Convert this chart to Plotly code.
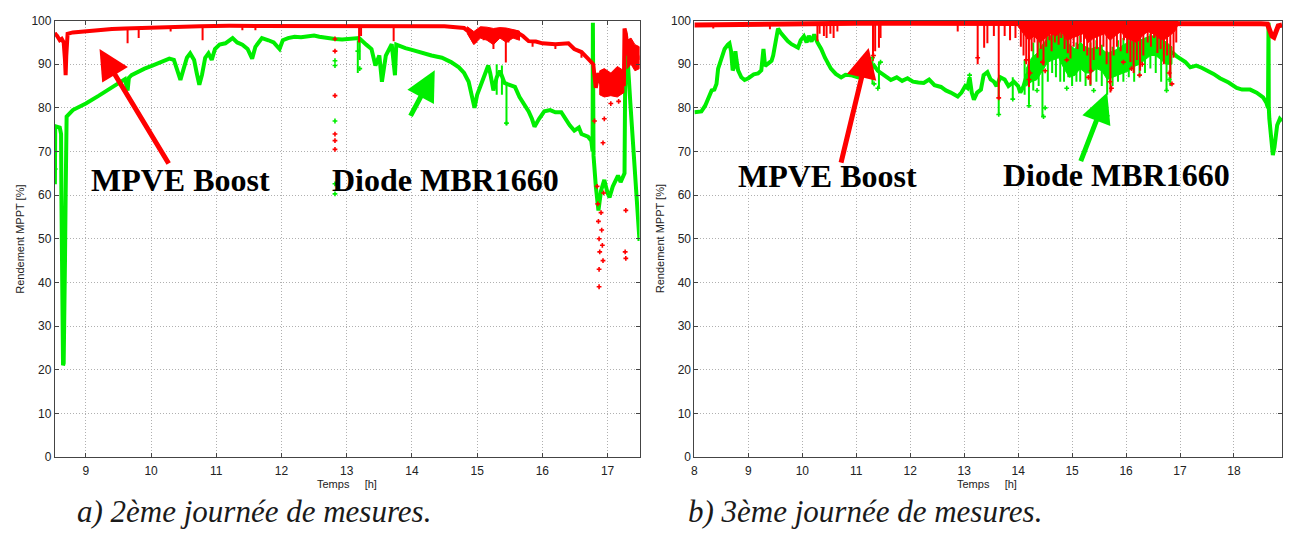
import numpy as np
import plotly.graph_objects as go

# ---------------- Day 2 (panel a) ----------------
red_a_t = [8.525, 8.53, 8.56, 8.60, 8.63, 8.66, 8.68, 8.69, 8.70, 8.72, 8.8, 9.0, 9.2, 9.4, 9.6,
           9.8, 10.0, 10.3, 10.5, 10.75, 11.2, 11.8, 12.4, 12.9, 13.0, 13.5, 14.0, 14.5, 14.8,
           14.87, 14.96, 15.0, 15.1, 15.2, 15.3, 15.45, 15.52, 15.6, 15.7, 15.79, 15.9, 16.0,
           16.2, 16.4, 16.49, 16.6, 16.7, 16.78, 16.82, 16.86, 16.9, 16.93, 16.96, 16.99, 17.02,
           17.05, 17.08, 17.11, 17.14, 17.17, 17.2, 17.23, 17.25, 17.26, 17.28, 17.32, 17.36,
           17.4, 17.44, 17.49]
red_a_v = [97.3, 97.0, 96.5, 95.5, 95.8, 95.0, 91.0, 87.5, 92.0, 97.0, 97.3, 97.6, 97.9, 98.1, 98.2,
           98.3, 98.5, 98.5, 98.6, 98.7, 98.8, 98.8, 98.8, 98.8, 98.7, 98.7, 98.8, 98.7, 98.3,
           97.5, 95.0, 97.0, 98.0, 97.5, 97.8, 97.6, 97.5, 97.4, 96.5, 95.3, 95.2, 94.8,
           94.6, 94.8, 93.5, 92.8, 91.3, 90.0, 84.6, 88.0, 85.5, 87.5, 84.0, 87.0, 83.5,
           86.5, 84.0, 87.5, 84.5, 86.8, 83.8, 86.5, 85.0, 98.2, 97.0, 92.0, 93.5,
           91.0, 92.5, 91.0]

# thick, noisy parts of the MPVE Boost band: time, lower edge, upper edge
red_a_fuzz_t = [14.85, 14.95, 15.05, 15.15, 15.25, 15.35, 15.45, 15.55, 15.65,
                16.88, 16.95, 17.05, 17.15, 17.25,
                17.3, 17.36, 17.42, 17.49]
red_a_fuzz_lo = [97.0, 94.5, 96.0, 95.5, 94.5, 96.0, 95.0, 96.0, 95.5,
                 83.0, 82.5, 82.8, 82.5, 83.5,
                 89.0, 90.0, 88.5, 89.0]
red_a_fuzz_hi = [98.6, 97.5, 98.6, 98.5, 98.2, 98.4, 98.3, 98.0, 97.6,
                 88.5, 89.0, 88.0, 89.5, 88.5,
                 95.5, 96.0, 94.5, 94.0]
red_a_fuzz_grp = [0, 0, 0, 0, 0, 0, 0, 0, 0, 1, 1, 1, 1, 1, 2, 2, 2, 2]

green_a_t = [8.525, 8.53, 8.6, 8.62, 8.625, 8.63, 8.64, 8.65, 8.66, 8.67, 8.68, 8.69, 8.70, 8.705,
             8.8, 9.0, 9.2, 9.4, 9.52, 9.6, 9.64, 9.66, 9.7, 9.8, 9.9, 10.02, 10.15, 10.28,
             10.35, 10.4, 10.45, 10.5, 10.55, 10.6, 10.66, 10.7, 10.74, 10.78, 10.83, 10.88,
             10.93, 10.98, 11.05, 11.14, 11.2, 11.25, 11.32, 11.4, 11.48, 11.55, 11.6, 11.7,
             11.8, 11.88, 11.97, 12.02, 12.1, 12.2, 12.3, 12.4, 12.5, 12.58, 12.7, 12.82,
             12.93, 13.05, 13.19, 13.3, 13.38, 13.44, 13.5, 13.54, 13.6, 13.69, 13.74, 13.76,
             13.8, 13.9, 14.0, 14.1, 14.2, 14.3, 14.46, 14.6, 14.72, 14.8, 14.87, 14.92,
             14.96, 15.0, 15.07, 15.12, 15.17, 15.2, 15.25, 15.3, 15.35, 15.42, 15.5, 15.58,
             15.65, 15.72, 15.79, 15.84, 15.88, 15.95, 16.03, 16.12, 16.2, 16.29, 16.35,
             16.42, 16.49, 16.56, 16.6, 16.65, 16.7, 16.75, 16.77, 16.775, 16.785, 16.82,
             16.86, 16.9, 16.95, 17.0, 17.03, 17.08, 17.16, 17.2, 17.26, 17.275, 17.3, 17.35,
             17.4, 17.45, 17.49]
green_a_v = [62.5, 75.8, 75.5, 74.0, 60.0, 45.0, 30.0, 21.0, 21.5, 30.0, 45.0, 60.0, 72.0, 78.0,
             79.5, 81.0, 82.8, 84.7, 85.7, 86.6, 84.0, 86.9, 87.5, 88.3, 89.0, 89.7, 90.5, 91.3,
             91.0, 89.0, 86.4, 89.0, 91.5, 92.5, 91.0, 88.0, 85.3, 87.5, 91.5, 92.5,
             91.0, 93.5, 94.5, 94.8, 95.5, 96.0, 95.0, 94.5, 93.5, 91.3, 94.0, 96.0,
             95.5, 95.0, 93.5, 95.5, 96.0, 96.3, 96.2, 96.5, 96.6, 96.3, 96.0, 95.8,
             95.7, 95.8, 96.0, 94.5, 93.5, 89.7, 92.0, 86.0, 92.0, 94.6, 87.5, 94.5,
             94.2, 93.7, 93.3, 92.8, 92.4, 92.0, 91.5, 90.5, 89.3, 88.0, 86.0, 83.0,
             80.0, 83.0, 86.0, 88.0, 89.7, 88.0, 84.0, 87.0, 88.5, 85.7, 85.2, 84.8,
             82.5, 81.0, 79.2, 77.5, 75.7, 77.5, 79.2, 79.5, 79.0, 79.0, 77.5,
             76.0, 74.8, 75.5, 74.0, 73.8, 73.4, 72.5, 70.0, 99.5, 69.0, 62.0,
             56.5, 61.0, 63.5, 60.5, 59.5, 62.0, 64.5, 63.0, 65.0, 97.0, 93.0, 81.0,
             70.0, 58.0, 49.5]

# downward spikes of the MPVE Boost band: time, lowest value
red_a_spike_t = [9.64, 9.81, 10.3, 10.79, 11.4, 11.6, 13.19, 13.22, 13.72, 15.0, 15.1, 15.25,
                 15.3, 15.44, 15.48, 15.6, 15.85, 16.2, 16.6]
red_a_spike_lo = [94.8, 96.0, 97.5, 95.5, 97.8, 97.8, 95.0, 96.5, 95.3, 96.0, 95.5, 93.5,
                  96.0, 90.4, 95.0, 96.5, 94.0, 93.5, 91.5]

# streaks of the diode curve: time, low, high
green_a_spike_t = [13.17, 13.2, 15.3, 15.38, 15.45]
green_a_spike_lo = [88.0, 91.0, 83.0, 83.0, 76.0]
green_a_spike_hi = [95.5, 96.0, 90.0, 89.7, 86.0]

# isolated samples
red_a_pts_t = [12.82, 12.82, 12.82, 12.82, 12.82, 12.82, 16.8, 16.93, 16.84, 16.85, 16.86, 16.87,
               16.88, 16.87, 16.87, 16.9, 16.91, 16.92, 16.93, 16.94, 17.27, 17.28, 17.28,
               17.05, 17.17, 16.95]
red_a_pts_v = [95.8, 93.0, 82.8, 74.0, 72.5, 70.5, 77.0, 72.0, 62.0, 58.0, 54.0, 50.0,
               47.0, 43.0, 39.0, 56.0, 52.0, 48.5, 45.0, 60.5, 47.0, 45.5, 56.5,
               81.0, 81.5, 77.5]
green_a_pts_t = [12.82, 12.82, 12.82, 12.82, 12.82, 13.17, 13.2, 8.53, 8.53, 15.45]
green_a_pts_v = [90.8, 89.7, 77.0, 62.6, 60.3, 93.0, 89.0, 70.0, 66.0, 76.5]

# ---------------- Day 3 (panel b) ----------------
red_b_t = [8.0, 8.5, 9.0, 9.5, 10.0, 11.0, 12.0, 13.0, 14.0, 15.0, 16.0, 16.95, 17.5, 18.0,
           18.5, 18.62, 18.66, 18.7, 18.74, 18.78, 18.82, 18.89]
red_b_v = [99.0, 99.1, 99.2, 99.3, 99.3, 99.4, 99.4, 99.4, 99.4, 99.3, 99.3, 99.4, 99.5, 99.4,
           99.3, 99.2, 98.0, 96.5, 96.2, 97.5, 98.8, 99.0]

red_b_fuzz_t = [13.98, 14.1, 14.2, 14.3, 14.4, 14.5, 14.6, 14.7, 14.8, 14.9, 15.0, 15.1, 15.2,
                15.3, 15.4, 15.5, 15.6, 15.7, 15.8, 15.9, 16.0, 16.1, 16.2, 16.3, 16.4, 16.5,
                16.6, 16.7, 16.8, 16.9, 16.96]
red_b_fuzz_lo = [99.0, 97.0, 95.5, 96.5, 95.0, 96.0, 97.0, 96.5, 97.5, 95.5, 96.0, 96.5, 97.0,
                 95.0, 96.0, 96.5, 97.0, 95.5, 96.5, 97.5, 96.0, 95.5, 95.0, 96.5, 97.5, 97.0,
                 96.0, 95.5, 96.5, 97.5, 99.0]
red_b_fuzz_hi = [99.8] * 31
red_b_fuzz_grp = [0] * 31

red_b_spike_t = [8.35, 9.4, 10.28, 10.32, 10.4, 10.45, 10.52, 10.58, 10.65, 11.31, 11.35, 11.42,
                 11.45, 12.88, 13.25, 13.37, 13.43, 13.55, 13.64, 13.75, 13.85, 13.95, 14.05,
                 14.1, 14.15, 14.2, 14.25, 14.3, 14.36, 14.42, 14.47, 14.52, 14.58, 14.62,
                 14.68, 14.75, 14.8, 14.86, 14.92, 14.97, 15.03, 15.1, 15.16, 15.22, 15.28,
                 15.34, 15.4, 15.46, 15.52, 15.58, 15.64, 15.71, 15.77, 15.83, 15.9, 15.96,
                 16.02, 16.08, 16.14, 16.2, 16.26, 16.32, 16.4, 16.46, 16.52, 16.58, 16.64,
                 16.7, 16.76, 16.82, 16.88, 16.93]
red_b_spike_lo = [98.2, 98.0, 95.3, 97.0, 96.5, 96.0, 97.0, 96.0, 97.5, 90.8, 93.0, 93.8,
                  96.0, 97.5, 90.0, 93.8, 94.8, 96.5, 82.0, 96.5, 95.5, 96.0, 94.0,
                  92.0, 90.0, 84.8, 93.0, 95.0, 91.5, 93.5, 89.7, 94.0, 95.5, 93.0,
                  95.0, 94.5, 96.0, 93.5, 92.5, 91.3, 94.0, 93.5, 95.0, 93.0, 92.0,
                  85.3, 91.0, 93.5, 92.0, 94.0, 90.0, 83.5, 92.0, 94.0, 93.0, 95.5,
                  92.5, 90.5, 88.0, 91.0, 88.5, 92.0, 95.0, 94.0, 96.0, 92.6, 93.5,
                  90.0, 92.0, 86.8, 91.5, 95.0]

green_b_t = [8.0, 8.13, 8.2, 8.26, 8.32, 8.37, 8.41, 8.44, 8.5, 8.56, 8.62, 8.65, 8.68, 8.71,
             8.74, 8.76, 8.78, 8.81, 8.87, 8.93, 9.0, 9.1, 9.18, 9.24, 9.28, 9.31, 9.37, 9.43,
             9.46, 9.5, 9.55, 9.6, 9.66, 9.73, 9.8, 9.92, 9.97, 10.03, 10.08, 10.12, 10.17,
             10.22, 10.28, 10.35, 10.42, 10.48, 10.53, 10.62, 10.72, 10.8, 10.9, 11.03,
             11.12, 11.22, 11.28, 11.33, 11.4, 11.5, 11.64, 11.75, 11.85, 11.95, 12.05,
             12.15, 12.25, 12.35, 12.45, 12.57, 12.66, 12.75, 12.88, 12.95, 13.02, 13.06,
             13.1, 13.14, 13.18, 13.24, 13.31, 13.36, 13.43, 13.49, 13.55, 13.6, 13.67,
             13.75, 13.82, 13.92, 14.0, 14.04, 14.1, 14.16, 14.23, 14.3, 14.36, 14.41,
             14.47, 14.54, 14.6, 14.65, 14.73, 14.8, 14.85, 14.91, 14.97, 15.02, 15.08,
             15.15, 15.22, 15.28, 15.34, 15.42, 15.52, 15.58, 15.65, 15.72, 15.8, 15.89,
             15.98, 16.08, 16.17, 16.26, 16.33, 16.4, 16.5, 16.58, 16.69, 16.78, 16.87,
             16.94, 17.0, 17.1, 17.19, 17.3, 17.4, 17.5, 17.62, 17.74, 17.9, 18.05, 18.15,
             18.3, 18.42, 18.54, 18.6, 18.63, 18.64, 18.645, 18.655, 18.69, 18.72, 18.75,
             18.8, 18.85, 18.89]
green_b_v = [79.0, 79.2, 80.5, 82.4, 84.0, 84.2, 85.5, 89.0, 91.5, 93.5, 94.5, 94.8, 93.0, 88.6,
             89.5, 93.0, 91.0, 88.6, 87.0, 86.4, 86.8, 87.7, 87.9, 88.6, 93.5, 89.6, 90.2, 90.8,
             92.0, 95.0, 98.2, 97.2, 96.2, 95.3, 94.6, 93.8, 95.5, 96.4, 95.0, 96.5, 95.2,
             96.8, 95.0, 93.5, 91.5, 90.2, 89.0, 87.8, 87.0, 87.6, 87.5, 87.0,
             87.8, 88.6, 89.0, 89.7, 88.5, 87.6, 86.4, 87.0, 86.2, 86.8, 86.0,
             85.8, 85.7, 86.5, 85.2, 84.8, 84.0, 83.5, 82.6, 83.5, 85.0, 84.6,
             87.0, 83.5, 81.9, 83.5, 84.2, 87.5, 88.2, 86.5, 86.0, 85.0, 87.0,
             86.5, 85.0, 86.0, 85.0, 83.5, 85.0, 87.5, 88.6, 86.5, 88.0, 89.3,
             91.5, 93.5, 95.5, 94.0, 96.4, 94.5, 92.0, 92.6, 89.5, 87.5, 90.5,
             93.0, 92.0, 89.5, 90.4, 91.5, 92.0, 90.5, 88.6, 89.5, 89.2, 89.7,
             89.3, 90.2, 91.0, 91.3, 92.5, 94.0, 95.3, 94.5, 93.5, 93.0, 92.6,
             91.8, 91.3, 90.5, 89.3, 89.7, 89.2, 88.6, 87.8, 86.8, 85.8, 84.6, 84.2,
             84.2, 83.5, 82.4, 81.2, 80.0, 99.5, 80.0, 77.5, 72.0, 69.2, 71.0,
             76.0, 77.5, 77.0]

# scattered cloud around the diode curve during the cloudy afternoon
green_b_fuzz_t = [14.15, 14.25, 14.35, 14.45, 14.55, 14.65, 14.75, 14.85, 14.95, 15.05, 15.15,
                  15.25, 15.35, 15.45, 15.55, 15.65, 15.75, 15.85, 15.95, 16.05, 16.15, 16.25,
                  16.35, 16.45, 16.55, 16.65, 16.75, 16.85]
green_b_fuzz_lo = [85.0, 86.0, 86.5, 88.5, 90.5, 91.0, 91.5, 89.0, 87.0, 87.5, 89.0,
                   88.0, 88.0, 89.0, 88.5, 86.5, 87.0, 87.5, 88.0, 88.5, 89.5, 90.0,
                   91.0, 92.0, 92.0, 91.0, 90.0, 90.0]
green_b_fuzz_hi = [89.0, 91.5, 92.5, 94.5, 96.0, 97.0, 97.5, 96.5, 94.5, 93.5, 95.0,
                   94.0, 93.5, 94.0, 93.5, 92.5, 93.0, 93.5, 94.5, 95.0, 95.5, 95.5,
                   96.0, 96.5, 96.5, 96.0, 95.0, 94.0]
green_b_fuzz_grp = [0] * 28

green_b_spike_t = [11.3, 11.42, 13.64, 13.9, 14.12, 14.2, 14.28, 14.38, 14.45, 14.55, 14.63,
                   14.7, 14.78, 14.85, 14.93, 15.0, 15.08, 15.15, 15.25, 15.34, 15.45, 15.55,
                   15.65, 15.75, 15.85, 15.95, 16.05, 16.15, 16.25, 16.35, 16.45, 16.55,
                   16.65, 16.75, 16.82]
green_b_spike_lo = [85.5, 84.5, 78.6, 82.0, 83.0, 80.8, 84.0, 85.0, 78.0, 86.0, 88.0,
                    87.0, 86.0, 86.0, 87.0, 85.0, 86.0, 86.0, 85.0, 85.0, 86.0, 85.0,
                    83.0, 85.0, 86.0, 86.0, 87.0, 86.0, 87.0, 88.0, 89.0, 88.0,
                    86.0, 84.0, 85.0]
green_b_spike_hi = [91.8, 90.5, 87.0, 87.0, 91.0, 92.0, 95.0, 96.0, 93.0, 97.5, 97.5,
                    98.0, 96.0, 97.0, 96.0, 94.0, 95.0, 96.5, 94.0, 95.0, 95.5, 94.5,
                    93.0, 94.0, 95.5, 96.0, 96.5, 96.0, 95.5, 96.0, 97.0, 96.5,
                    95.5, 95.0, 94.0]

red_b_pts_t = [13.64, 14.2, 14.22, 14.45, 14.5, 14.9, 15.3, 15.35, 15.7, 15.73, 16.1, 16.25,
               16.3, 16.8, 16.85, 15.95, 14.15, 13.25, 11.32]
red_b_pts_v = [82.3, 86.5, 88.0, 90.5, 88.5, 91.0, 87.0, 88.5, 86.0, 84.5, 89.0, 87.5,
               90.0, 88.0, 85.5, 90.5, 91.0, 91.5, 92.0]
green_b_pts_t = [13.64, 14.2, 14.47, 14.5, 15.65, 14.35, 14.9, 15.4, 16.75, 16.8, 13.9, 11.33,
                 11.4, 11.3, 11.45, 13.1]
green_b_pts_v = [78.5, 80.5, 78.0, 80.0, 78.2, 84.0, 84.5, 84.0, 84.0, 86.5, 82.0, 85.5,
                 84.5, 91.5, 90.5, 87.5]

RED = "#ff0000"
GREEN = "#00ee00"
W, H = 1290, 536


def spikes_from_band(ts, los, band_t, band_v):
    xs, ys = [], []
    for t, lo in zip(ts, los):
        xs += [t, t, None]
        ys += [float(np.interp(t, band_t, band_v)), lo, None]
    return xs, ys


def streaks(ts, los, his):
    xs, ys = [], []
    for t, lo, hi in zip(ts, los, his):
        xs += [t, t, None]
        ys += [lo, hi, None]
    return xs, ys


def envelopes(ts, los, his, grps):
    """Closed outlines (upper edge forward, lower edge back) per group."""
    xs, ys = [], []
    for g in sorted(set(grps)):
        idx = [i for i, k in enumerate(grps) if k == g]
        tt = [ts[i] for i in idx]
        xs += tt + tt[::-1] + [tt[0], None]
        ys += [his[i] for i in idx] + [los[i] for i in idx][::-1] + [his[idx[0]], None]
    return xs, ys


fig = go.Figure()


def add_panel(xa, ya, rt, rv, gt, gv, rf, gf, rs_t, rs_lo, gs_t, gs_lo, gs_hi,
              rp_t, rp_v, gp_t, gp_v, red_w):
    common = dict(xaxis=xa, yaxis=ya, showlegend=False, hoverinfo="skip")
    fig.add_trace(go.Scatter(x=gt, y=gv, mode="lines", line=dict(color=GREEN, width=4), **common))
    if gf is not None:
        fx, fy = envelopes(*gf)
        fig.add_trace(go.Scatter(x=fx, y=fy, mode="lines", fill="toself", fillcolor=GREEN,
                                 line=dict(color=GREEN, width=1), **common))
    gx, gy = streaks(gs_t, gs_lo, gs_hi)
    fig.add_trace(go.Scatter(x=gx, y=gy, mode="lines", line=dict(color=GREEN, width=2), **common))
    fig.add_trace(go.Scatter(x=rt, y=rv, mode="lines", line=dict(color=RED, width=red_w), **common))
    fx, fy = envelopes(*rf)
    fig.add_trace(go.Scatter(x=fx, y=fy, mode="lines", fill="toself", fillcolor=RED,
                             line=dict(color=RED, width=1), **common))
    rx, ry = spikes_from_band(rs_t, rs_lo, rt, rv)
    fig.add_trace(go.Scatter(x=rx, y=ry, mode="lines", line=dict(color=RED, width=2), **common))
    fig.add_trace(go.Scatter(x=gp_t, y=gp_v, mode="markers",
                             marker=dict(symbol="cross", size=4, color=GREEN), **common))
    fig.add_trace(go.Scatter(x=rp_t, y=rp_v, mode="markers",
                             marker=dict(symbol="cross", size=4, color=RED), **common))


add_panel("x", "y", red_a_t, red_a_v, green_a_t, green_a_v,
          (red_a_fuzz_t, red_a_fuzz_lo, red_a_fuzz_hi, red_a_fuzz_grp), None,
          red_a_spike_t, red_a_spike_lo, green_a_spike_t, green_a_spike_lo, green_a_spike_hi,
          red_a_pts_t, red_a_pts_v, green_a_pts_t, green_a_pts_v, 4)
add_panel("x2", "y2", red_b_t, red_b_v, green_b_t, green_b_v,
          (red_b_fuzz_t, red_b_fuzz_lo, red_b_fuzz_hi, red_b_fuzz_grp),
          (green_b_fuzz_t, green_b_fuzz_lo, green_b_fuzz_hi, green_b_fuzz_grp),
          red_b_spike_t, red_b_spike_lo, green_b_spike_t, green_b_spike_lo, green_b_spike_hi,
          red_b_pts_t, red_b_pts_v, green_b_pts_t, green_b_pts_v, 5)

tick_font = dict(family="Liberation Sans, Arial, sans-serif", size=12, color="#222")
axis_common = dict(showline=True, linecolor="#444", linewidth=1, mirror="ticks",
                   ticks="inside", ticklen=4, tickcolor="#444", showgrid=True,
                   gridcolor="#b0b0b0", griddash="1px,2px", gridwidth=1, zeroline=False,
                   tickfont=tick_font)

ydom = [1 - 462 / H, 1 - 14 / H]
fig.update_layout(
    width=W, height=H, margin=dict(l=0, r=0, t=0, b=0),
    paper_bgcolor="white", plot_bgcolor="white",
    xaxis=dict(domain=[52 / W, 638 / W], range=[8.525, 17.49], tickvals=list(range(9, 18)),
               anchor="y", ticklabelstandoff=3, **axis_common),
    yaxis=dict(domain=ydom, range=[0, 100], tickvals=list(range(0, 101, 10)),
               anchor="x", **axis_common),
    xaxis2=dict(domain=[693 / W, 1282 / W], range=[8, 18.89], tickvals=list(range(8, 19)),
                anchor="y2", ticklabelstandoff=3, **axis_common),
    yaxis2=dict(domain=ydom, range=[0, 100], tickvals=list(range(0, 101, 10)),
                anchor="x2", **axis_common),
)


def px(x):
    return x / W


def py(y):
    return 1 - y / H


def paper_text(text, x, y, font, **kw):
    d = dict(text=text, x=px(x), y=py(y), xref="paper", yref="paper", showarrow=False,
             font=font, xanchor="center", yanchor="middle")
    d.update(kw)
    return d


annotations = []
label_font = dict(family="Liberation Sans, Arial, sans-serif", size=11, color="#222")
for cx, lx in [(345, 17), (986, 658)]:
    annotations.append(paper_text("Temps\u00a0\u00a0\u00a0\u00a0\u00a0[h]", cx, 490, label_font))
    annotations.append(paper_text("Rendement MPPT [%]", lx, 238, label_font, textangle=-90))

big = dict(family="Liberation Serif, Times New Roman, serif", size=32, color="black")
for txt, cx, cy in [("<b>MPVE Boost</b>", 178, 178), ("<b>Diode MBR1660</b>", 444, 178),
                    ("<b>MPVE Boost</b>", 826, 174), ("<b>Diode MBR1660</b>", 1116, 172)]:
    annotations.append(paper_text(txt, cx, cy, big))

cap = dict(family="Liberation Serif, Times New Roman, serif", size=31, color="#1a1a1a")
annotations.append(paper_text("<i>a) 2ème journée de mesures.</i>", 72, 518, cap, xanchor="left"))
annotations.append(paper_text("<i>b) 3ème journée de mesures.</i>", 685, 518, cap, xanchor="left"))

# pointer arrows: head position in data units, tail offset in pixels
for xr, yr, hx, hy, ax, ay, col in [("x", "y", 9.21, 93.5, 70, 116, RED),
                                    ("x", "y", 14.35, 88.6, -25, 47, GREEN),
                                    ("x2", "y2", 11.23, 93.7, -28, 116, RED),
                                    ("x2", "y2", 15.65, 83.5, -27, 70, GREEN)]:
    annotations.append(dict(x=hx, y=hy, xref=xr, yref=yr, ax=ax, ay=ay, text="",
                            showarrow=True, arrowhead=2, arrowsize=1.2, arrowwidth=5,
                            arrowcolor=col, standoff=0))

fig.update_layout(annotations=annotations)
fig.write_html("out.html")
